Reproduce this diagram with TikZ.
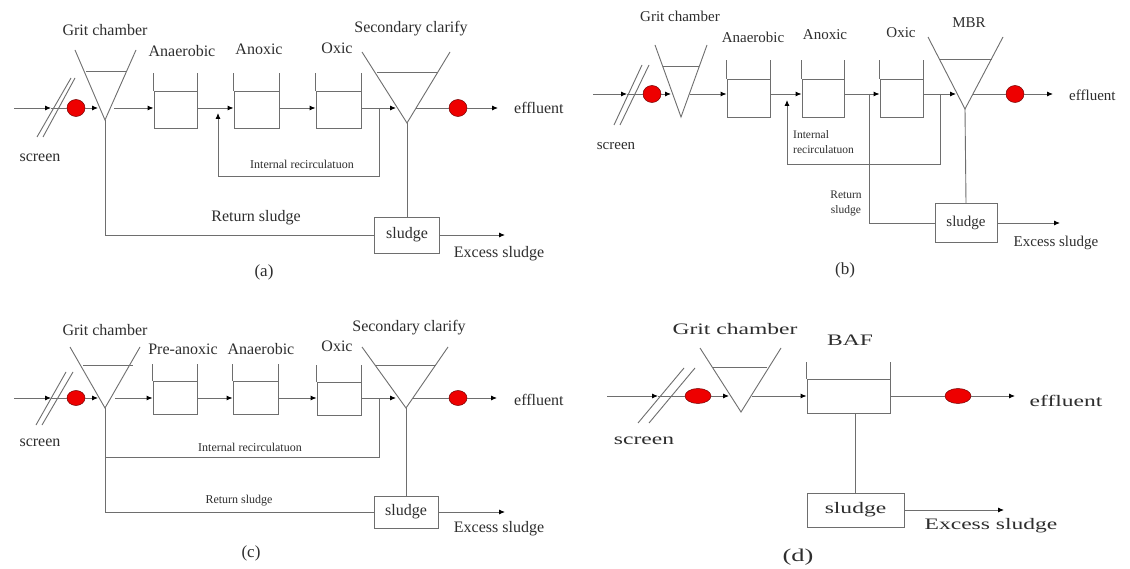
\documentclass[tikz,border=0pt]{standalone}
\usepackage{fontspec}
\setmainfont{Liberation Serif}
\newfontfamily\widefont[FakeStretch=1.47]{Liberation Serif}
\usetikzlibrary{arrows.meta,shapes.geometric}
\definecolor{lc}{HTML}{6E6E6E}
\definecolor{tc}{HTML}{2E2E2E}
\definecolor{dotred}{HTML}{EE0000}
\tikzset{
  ln/.style={draw=lc,line width=0.9pt},
  arr/.style={ln,-{Latex[length=6pt,width=5pt,color=black]}},
  tank/.style={draw=lc,line width=0.9pt,rectangle,inner sep=0pt},
  sbox/.style={draw=lc,line width=0.9pt,rectangle,inner sep=0pt},
  rdot/.style={ellipse,fill=dotred,draw=red!45!black,line width=0.5pt,inner sep=0pt},
  lab/.style={text=tc,inner sep=0pt,font=\fontsize{16}{18}\selectfont},
  labb/.style={text=tc,inner sep=0pt,font=\fontsize{15}{17}\selectfont},
  sml/.style={text=tc,inner sep=0pt,font=\fontsize{12}{13}\selectfont},
  smlb/.style={text=tc,inner sep=0pt,align=left,font=\fontsize{11.5}{15}\selectfont},
  capt/.style={text=tc,inner sep=0pt,font=\fontsize{17}{19}\selectfont},
  wlab/.style={text=tc,inner sep=0pt,font=\widefont\fontsize{16}{18}\selectfont},
  wcapt/.style={text=tc,inner sep=0pt,font=\widefont\fontsize{18}{20}\selectfont}
}
\begin{document}
\begin{tikzpicture}[x=1pt,y=-1pt]
\fill[white] (0,0) rectangle (1130,569);
\useasboundingbox (0,0) rectangle (1130,569);

% ================= (a) =================
\coordinate (aL) at (0,108);
\coordinate (aIn) at (14,108);
\coordinate (aScr) at (51,108);
\draw[ln] (37,137) -- (71,78);
\draw[ln] (43,137) -- (75,78);
\node[rdot,minimum width=18pt,minimum height=17pt] (aD1) at (76,108) {};
\coordinate (aG1) at (75,50); \coordinate (aG2) at (136,50); \coordinate (aGA) at (105,120);
\draw[ln] (aG1) -- (aGA) -- (aG2);
\draw[ln] (86,71) -- (127,71);
\coordinate (aGi) at (98,108); \coordinate (aGo) at (114,108);
\draw[arr] (aIn) -- (aScr);
\draw[ln] (aScr) -- (aD1);
\draw[arr] (aD1) -- (aGi);
\node[tank,minimum width=43pt,minimum height=37pt] (aT1) at (175.5,109.5) {};
\node[tank,minimum width=45pt,minimum height=37pt] (aT2) at (256.5,109.5) {};
\node[tank,minimum width=45pt,minimum height=37pt] (aT3) at (338.5,109.5) {};
\foreach \t in {aT1,aT2,aT3} {\draw[ln] (\t.north west) -- ++(0,-18); \draw[ln] (\t.north east) -- ++(0,-18);}
\draw[arr] (aGo) -- (aT1.west |- aL);
\draw[arr] (aT1.east |- aL) -- (aT2.west |- aL);
\draw[arr] (aT2.east |- aL) -- (aT3.west |- aL);
\coordinate (aC1) at (362,52); \coordinate (aC2) at (450,52); \coordinate (aCA) at (407,123);
\draw[ln] (aC1) -- (aCA) -- (aC2);
\draw[ln] (377,72) -- (437,72);
\coordinate (aCi) at (396,108); \coordinate (aCo) at (416,108);
\draw[arr] (aT3.east |- aL) -- (aCi);
\node[rdot,minimum width=18pt,minimum height=17pt] (aD2) at (458,108) {};
\coordinate (aOut) at (498,108);
\draw[ln] (aCo) -- (aD2);
\draw[arr] (aD2) -- (aOut);
\node[lab,anchor=west] (aEff) at (514,108) {effluent};
\coordinate (aR1) at (379,108); \coordinate (aR2) at (218,113);
\draw[arr] (aR1) -- ++(0,68) -| (aR2);
\node[sml] (aIR) at (302,164) {Internal recirculatuon};
\node[sbox,lab,minimum width=65pt,minimum height=36pt] (aS) at (407,235) {sludge};
\draw[ln] (aGA) |- (aS.west);
\draw[ln] (aCA) -- (aS.north);
\coordinate (aEx) at (505,235);
\draw[arr] (aS.east) -- (aEx);
\node[lab] (aRS) at (256,218) {Return sludge};
\node[lab] (aES) at (499,254) {Excess sludge};
\node[lab] (aGC) at (105,30) {Grit chamber};
\node[lab] (aAn) at (182,51) {Anaerobic};
\node[lab] (aAx) at (259,49) {Anoxic};
\node[lab] (aOx) at (337,48) {Oxic};
\node[lab] (aSC) at (411,29) {Secondary clarify};
\node[lab] (aSc) at (40,158) {screen};
\node[capt] (aCap) at (264,272) {(a)};

% ================= (b) =================
\coordinate (bL) at (0,94);
\coordinate (bIn) at (593,94);
\coordinate (bScr) at (627,94);
\draw[ln] (614,125) -- (642,65);
\draw[ln] (620,125) -- (649,65);
\node[rdot,minimum width=18pt,minimum height=17pt] (bD1) at (652,94) {};
\coordinate (bG1) at (655,45); \coordinate (bG2) at (707,45); \coordinate (bGA) at (681,117);
\draw[ln] (bG1) -- (bGA) -- (bG2);
\draw[ln] (663,66) -- (699,66);
\coordinate (bGi) at (671,94); \coordinate (bGo) at (690,94);
\draw[arr] (bIn) -- (bScr);
\draw[ln] (bScr) -- (bD1);
\draw[arr] (bD1) -- (bGi);
\node[tank,minimum width=43pt,minimum height=38pt] (bT1) at (748.5,98) {};
\node[tank,minimum width=42pt,minimum height=38pt] (bT2) at (823,98) {};
\node[tank,minimum width=43pt,minimum height=38pt] (bT3) at (901.5,98) {};
\foreach \t in {bT1,bT2,bT3} {\draw[ln] (\t.north west) -- ++(0,-19); \draw[ln] (\t.north east) -- ++(0,-19);}
\draw[arr] (bGo) -- (bT1.west |- bL);
\draw[arr] (bT1.east |- bL) -- (bT2.west |- bL);
\draw[arr] (bT2.east |- bL) -- (bT3.west |- bL);
\coordinate (bC1) at (928,37); \coordinate (bC2) at (1003,37); \coordinate (bCA) at (965,109);
\draw[ln] (bC1) -- (bCA) -- (bC2);
\draw[ln] (940,59) -- (992,59);
\coordinate (bCi) at (956,94); \coordinate (bCo) at (973,94);
\draw[arr] (bT3.east |- bL) -- (bCi);
\node[rdot,minimum width=18pt,minimum height=17pt] (bD2) at (1015,94) {};
\coordinate (bOut) at (1053,94);
\draw[ln] (bCo) -- (bD2);
\draw[arr] (bD2) -- (bOut);
\node[labb,anchor=west] (bEff) at (1069,95) {effluent};
\coordinate (bR1) at (940,94); \coordinate (bR2) at (787,100);
\draw[arr] (bR1) -- ++(0,70) -| (bR2);
\node[smlb,anchor=north west] (bIR) at (793,130) {Internal\\recirculatuon};
\node[sbox,labb,minimum width=62pt,minimum height=39pt] (bS) at (966,223) {sludge};
\coordinate (bRJ) at (869,94);
\draw[ln] (bRJ) |- (bS.west);
\draw[ln] (bCA) -- (bS.north);
\coordinate (bEx) at (1060,223);
\draw[arr] (bS.east) -- (bEx);
\node[smlb,align=center,anchor=north] (bRS) at (846,191) {Return\\sludge};
\node[labb] (bES) at (1056,243) {Excess sludge};
\node[labb] (bGC) at (680,16) {Grit chamber};
\node[labb] (bAn) at (753,37) {Anaerobic};
\node[labb] (bAx) at (825,35) {Anoxic};
\node[labb] (bOx) at (901,33) {Oxic};
\node[labb] (bMB) at (969,23) {MBR};
\node[labb] (bSc) at (616,146) {screen};
\node[capt] (bCap) at (845,270) {(b)};

% ================= (c) =================
\coordinate (cL) at (0,398);
\coordinate (cIn) at (14,398);
\coordinate (cScr) at (51,398);
\draw[ln] (36,425) -- (66,372);
\draw[ln] (42,425) -- (73,372);
\node[rdot,minimum width=18pt,minimum height=15pt] (cD1) at (76,398) {};
\coordinate (cG1) at (70,347); \coordinate (cG2) at (140,347); \coordinate (cGA) at (105,408);
\draw[ln] (cG1) -- (cGA) -- (cG2);
\draw[ln] (83,365) -- (133,365);
\coordinate (cGi) at (98,398); \coordinate (cGo) at (115,398);
\draw[arr] (cIn) -- (cScr);
\draw[ln] (cScr) -- (cD1);
\draw[arr] (cD1) -- (cGi);
\node[tank,minimum width=44pt,minimum height=33pt] (cT1) at (175,397.5) {};
\node[tank,minimum width=45pt,minimum height=33pt] (cT2) at (255.5,397.5) {};
\node[tank,minimum width=44pt,minimum height=33pt] (cT3) at (339,399) {};
\foreach \t in {cT1,cT2,cT3} {\draw[ln] (\t.north west) -- ++(0,-17); \draw[ln] (\t.north east) -- ++(0,-17);}
\draw[arr] (cGo) -- (cT1.west |- cL);
\draw[arr] (cT1.east |- cL) -- (cT2.west |- cL);
\draw[arr] (cT2.east |- cL) -- (cT3.west |- cL);
\coordinate (cC1) at (362,347); \coordinate (cC2) at (448,347); \coordinate (cCA) at (406,408);
\draw[ln] (cC1) -- (cCA) -- (cC2);
\draw[ln] (375,365) -- (436,365);
\coordinate (cCi) at (396,398); \coordinate (cCo) at (413,398);
\draw[arr] (cT3.east |- cL) -- (cCi);
\node[rdot,minimum width=18pt,minimum height=15pt] (cD2) at (458,398) {};
\coordinate (cOut) at (497,398);
\draw[ln] (cCo) -- (cD2);
\draw[arr] (cD2) -- (cOut);
\node[lab,anchor=west] (cEff) at (514,400) {effluent};
\coordinate (cR1) at (379,398); \coordinate (cJ) at (105,457);
\draw[ln] (cR1) |- (cJ);
\node[sml] (cIR) at (250,447) {Internal recirculatuon};
\node[sbox,lab,minimum width=64pt,minimum height=32pt] (cS) at (406,512) {sludge};
\draw[ln] (cGA) |- (cS.west);
\draw[ln] (cCA) -- (cS.north);
\coordinate (cEx) at (505,512);
\draw[arr] (cS.east) -- (cEx);
\node[sml] (cRS) at (239,501) {Return sludge};
\node[lab] (cES) at (499,529) {Excess sludge};
\node[lab] (cGC) at (105,330) {Grit chamber};
\node[lab] (cPA) at (183,349) {Pre-anoxic};
\node[lab] (cAn) at (261,349) {Anaerobic};
\node[lab] (cOx) at (337,346) {Oxic};
\node[lab] (cSC) at (409,328) {Secondary clarify};
\node[lab] (cSc) at (40,443) {screen};
\node[capt] (cCap) at (251,553) {(c)};

% ================= (d) =================
\coordinate (dL) at (0,396);
\coordinate (dIn) at (607,396);
\coordinate (dScr) at (658,396);
\draw[ln] (638,423) -- (684,368);
\draw[ln] (649,423) -- (695,368);
\node[rdot,minimum width=26pt,minimum height=15pt] (dD1) at (698,396) {};
\coordinate (dG1) at (700,348); \coordinate (dG2) at (781,348); \coordinate (dGA) at (741,412);
\draw[ln] (dG1) -- (dGA) -- (dG2);
\draw[ln] (713,367) -- (767,367);
\coordinate (dGi) at (729,396); \coordinate (dGo) at (752,396);
\draw[arr] (dIn) -- (dScr);
\draw[ln] (dScr) -- (dD1);
\draw[arr] (dD1) -- (dGi);
\node[tank,minimum width=83pt,minimum height=34pt] (dT) at (848.5,396) {};
\draw[ln] (dT.north west) -- ++(0,-17); \draw[ln] (dT.north east) -- ++(0,-17);
\draw[arr] (dGo) -- (dT.west |- dL);
\node[rdot,minimum width=26pt,minimum height=15pt] (dD2) at (958,396) {};
\coordinate (dOut) at (1015,396);
\draw[ln] (dT.east |- dL) -- (dD2);
\draw[arr] (dD2) -- (dOut);
\node[wlab] (dEff) at (1066,401) {effluent};
\node[sbox,wlab,minimum width=97pt,minimum height=34pt] (dS) at (855.5,510) {sludge};
\draw[ln] (dT.south -| dS.north) -- (dS.north);
\coordinate (dEx) at (1004,510);
\draw[arr] (dS.east) -- (dEx);
\node[wlab] (dES) at (991,526) {Excess sludge};
\node[wlab] (dGC) at (735,329) {Grit chamber};
\node[wlab] (dBA) at (850,340) {BAF};
\node[wlab] (dSc) at (644,441) {screen};
\node[wcapt] (dCap) at (798,557) {(d)};
\end{tikzpicture}
\end{document}
